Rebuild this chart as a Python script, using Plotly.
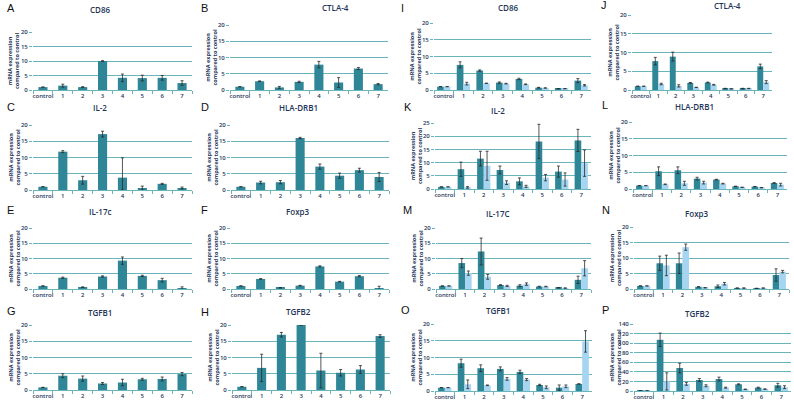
import plotly.graph_objects as go

W, H = 794, 405
categories = ["control", "1", "2", "3", "4", "5", "6", "7"]

# ---- single-series panels (A-H) ----
A_vals = [1.0, 1.5, 1.0, 10.0, 4.2, 4.1, 4.2, 2.4]
A_err = [0, 0.5, 0.15, 0.1, 1.3, 1.0, 0.8, 0.8]
B_vals = [1.0, 2.7, 0.8, 2.5, 7.8, 2.3, 6.6, 1.8]
B_err = [0, 0.1, 0.3, 0.2, 1.0, 1.5, 0.3, 0.2]
C_vals = [1.0, 11.8, 3.0, 17.2, 3.8, 0.4, 1.9, 0.6]
C_err = [0, 0.3, 1.2, 0.9, 6.1, 0.8, 0.15, 0.3]
C_err_minus = [0, 0.3, 1.2, 0.9, 3.8, 0.4, 0.15, 0.3]
D_vals = [1.0, 2.3, 2.4, 16.0, 7.2, 4.4, 6.1, 4.0]
D_err = [0, 0.4, 0.5, 0.2, 0.8, 0.8, 0.6, 1.4]
E_vals = [1.0, 3.7, 0.6, 4.1, 9.3, 4.3, 2.9, 0.3]
E_err = [0, 0.2, 0.1, 0.2, 1.2, 0.2, 0.6, 0.4]
F_vals = [1.0, 3.3, 0.4, 1.1, 7.4, 2.4, 4.2, 0.3]
F_err = [0, 0.1, 0.1, 0.1, 0.2, 0.1, 0.2, 0.6]
G_vals = [0.8, 4.4, 3.5, 2.0, 2.3, 3.3, 3.4, 4.9]
G_err = [0, 0.6, 0.8, 0.3, 1.0, 0.3, 0.6, 0.5]
H_vals = [1.0, 6.8, 17.0, 20.0, 6.0, 5.3, 6.3, 16.6]
H_err = [0, 4.2, 0.7, 0, 5.3, 1.0, 1.2, 0.4]

# ---- paired panels (I-P): dark series, light series ----
I_dark = [1.0, 7.5, 5.8, 2.2, 3.3, 0.7, 0.4, 2.8]
I_dark_err = [0, 0.9, 0.2, 0.2, 0.2, 0.1, 0.05, 0.6]
I_light = [1.0, 1.9, 2.0, 1.9, 1.7, 0.6, 0.4, 1.4]
I_light_err = [0, 0.4, 0.05, 0.1, 0.1, 0.05, 0.05, 0.2]
J_dark = [1.0, 7.7, 8.9, 1.9, 2.0, 0.4, 0.4, 6.3]
J_dark_err = [0, 1.0, 1.2, 0.1, 0.1, 0.05, 0.05, 0.6]
J_light = [1.0, 1.6, 1.1, 0.7, 1.4, 0.3, 0.4, 2.1]
J_light_err = [0, 0.2, 0.3, 0.05, 0.1, 0.05, 0.05, 0.4]
K_dark = [0.8, 7.5, 11.5, 7.2, 2.9, 18.0, 6.6, 18.4]
K_dark_err = [0, 2.7, 2.8, 1.5, 1.3, 6.5, 2.1, 4.2]
K_light = [0.8, 0.6, 8.8, 2.4, 1.0, 4.3, 3.6, 9.8]
K_light_err = [0, 0.3, 5.5, 0.7, 0.4, 1.2, 2.5, 5.0]
L_dark = [1.0, 5.3, 5.6, 3.1, 2.8, 0.8, 0.7, 1.8]
L_dark_err = [0, 1.3, 1.0, 0.4, 0.1, 0.05, 0.05, 0.1]
L_light = [1.0, 1.4, 1.7, 1.9, 1.6, 0.5, 0.4, 1.3]
L_light_err = [0, 0.1, 0.6, 0.4, 0.1, 0.05, 0.05, 0.4]
M_dark = [1.0, 8.5, 12.3, 1.3, 1.1, 0.8, 0.4, 3.0]
M_dark_err = [0, 1.5, 4.4, 0.1, 0.3, 0.1, 0.05, 1.2]
M_light = [1.0, 5.2, 4.0, 1.0, 1.6, 0.8, 0.3, 6.8]
M_light_err = [0, 0.7, 0.8, 0.2, 0.4, 0.1, 0.05, 2.5]
N_dark = [1.0, 8.3, 8.3, 0.7, 0.9, 0.3, 0.2, 4.5]
N_dark_err = [0, 2.3, 3.3, 0.05, 0.4, 0.05, 0.05, 2.0]
N_light = [1.0, 7.6, 13.5, 0.4, 1.7, 0.3, 0.3, 5.6]
N_light_err = [0, 3.3, 1.0, 0.05, 0.4, 0.05, 0.05, 0.4]
O_dark = [1.0, 8.3, 6.8, 6.6, 5.7, 1.8, 1.0, 2.1]
O_dark_err = [0, 1.2, 1.0, 0.6, 0.5, 0.2, 0.8, 0.05]
O_light = [1.0, 2.0, 1.7, 3.6, 3.4, 1.1, 1.4, 14.8]
O_light_err = [0, 1.3, 0.1, 0.4, 0.3, 0.4, 0.4, 3.2]
P_dark = [0.5, 107, 48, 23, 25, 14, 7, 12]
P_dark_err = [0, 14, 10, 3, 4, 1, 1, 4]
P_light = [0.5, 20, 15, 11, 7, 3.5, 4, 8]
P_light_err = [0, 18, 3, 2, 1, 0.5, 0.5, 3]

titles = {"A": "CD86", "B": "CTLA-4", "C": "IL-2", "D": "HLA-DRB1", "E": "IL-17c",
          "F": "Foxp3", "G": "TGFB1", "H": "TGFB2", "I": "CD86", "J": "CTLA-4",
          "K": "IL-2", "L": "HLA-DRB1", "M": "IL-17C", "N": "Foxp3", "O": "TGFB1",
          "P": "TGFB2"}
ymax = {"K": 25, "P": 140}
ydtick = {"P": 20}

single = {"A": (A_vals, A_err, None), "B": (B_vals, B_err, None),
          "C": (C_vals, C_err, C_err_minus), "D": (D_vals, D_err, None),
          "E": (E_vals, E_err, None), "F": (F_vals, F_err, None),
          "G": (G_vals, G_err, None), "H": (H_vals, H_err, None)}
paired = {"I": (I_dark, I_dark_err, I_light, I_light_err),
          "J": (J_dark, J_dark_err, J_light, J_light_err),
          "K": (K_dark, K_dark_err, K_light, K_light_err),
          "L": (L_dark, L_dark_err, L_light, L_light_err),
          "M": (M_dark, M_dark_err, M_light, M_light_err),
          "N": (N_dark, N_dark_err, N_light, N_light_err),
          "O": (O_dark, O_dark_err, O_light, O_light_err),
          "P": (P_dark, P_dark_err, P_light, P_light_err)}

# layout (pixel boxes): x0, x1, ytop, ybottom ; letter pos ; title pos
geom = {
    "A": ((33, 192, 32, 90), (5, 8), (100, 9)),
    "B": ((230, 388, 25, 90), (199, 8), (335, 8)),
    "C": ((33, 192, 125, 190), (5, 107), (100, 108)),
    "D": ((231, 389, 125, 190), (199, 107), (298, 108)),
    "E": ((33, 192, 228, 289), (5, 210), (100, 211)),
    "F": ((231, 389, 228, 289), (199, 210), (298, 211)),
    "G": ((33, 192, 325, 390), (5, 311), (100, 312)),
    "H": ((232, 390, 325, 390), (199, 312), (298, 311)),
    "I": ((434, 591, 23, 90), (399, 8), (508, 8)),
    "J": ((632, 772, 15, 90), (599, 5), (727, 5)),
    "K": ((435, 591, 123, 189), (402, 107), (498, 110)),
    "L": ((633, 787, 122, 189), (600, 105), (694, 106)),
    "M": ((436, 591, 228, 289), (401, 210), (498, 213)),
    "N": ((634, 789, 227, 289), (600, 210), (697, 213)),
    "O": ((435, 592, 324, 391), (399, 310), (498, 310)),
    "P": ((634, 791, 324, 391), (600, 310), (697, 313)),
}

DARK = "#2f8696"
LIGHT = "#a6d5f2"
GRID = "#6ab5bc"
NAVY = "#1e3558"
FONT = "Open Sans"

fig = go.Figure()
annotations = []
layout = {}

def px2x(p):
    return p / W

def px2y(p):
    return 1 - p / H

err_style = dict(color="#2a2a2a", thickness=0.8, width=1.5)

order = list("ABCDEFGHIJKLMNOP")
for i, key in enumerate(order, start=1):
    (x0, x1, yt, yb), (lx, ly), (tx, ty) = geom[key]
    xa = "x" if i == 1 else f"x{i}"
    ya = "y" if i == 1 else f"y{i}"
    top = ymax.get(key, 20)
    dt = ydtick.get(key, 5)
    if key in single:
        vals, err, errm = single[key]
        ey = dict(type="data", array=err, visible=True, **err_style)
        if errm is not None:
            ey["symmetric"] = False
            ey["arrayminus"] = errm
        fig.add_trace(go.Bar(x=categories, y=vals, xaxis=xa, yaxis=ya,
                             marker=dict(color=DARK, line=dict(width=0)),
                             width=0.46, offset=-0.23, error_y=ey,
                             showlegend=False, cliponaxis=True, hoverinfo="skip"))
    else:
        d, de, l, le = paired[key]
        fig.add_trace(go.Bar(x=categories, y=d, xaxis=xa, yaxis=ya,
                             marker=dict(color=DARK, line=dict(width=0)),
                             width=0.34, offset=-0.34,
                             error_y=dict(type="data", array=de, visible=True, **err_style),
                             showlegend=False, hoverinfo="skip"))
        fig.add_trace(go.Bar(x=categories, y=l, xaxis=xa, yaxis=ya,
                             marker=dict(color=LIGHT, line=dict(width=0)),
                             width=0.34, offset=0.0,
                             error_y=dict(type="data", array=le, visible=True, **err_style),
                             showlegend=False, hoverinfo="skip"))
    xname = "xaxis" if i == 1 else f"xaxis{i}"
    yname = "yaxis" if i == 1 else f"yaxis{i}"
    layout[xname] = dict(domain=[px2x(x0), px2x(x1)], anchor=ya,
                         type="category", range=[-0.5, 7.5],
                         showline=True, linecolor=GRID, linewidth=1,
                         ticks="outside", tickson="boundaries", ticklen=3,
                         tickcolor=GRID, showgrid=False, zeroline=False,
                         tickangle=0, automargin=False,
                         tickfont=dict(family=FONT, size=6, color=NAVY, weight=600),
                         fixedrange=True)
    layout[yname] = dict(domain=[px2y(yb), px2y(yt)], anchor=xa,
                         range=[0, top], dtick=dt, tick0=0,
                         showgrid=True, gridcolor=GRID, gridwidth=1,
                         showline=False, zeroline=False,
                         ticks="outside", ticklen=3, tickcolor=GRID,
                         automargin=False,
                         tickfont=dict(family=FONT, size=6, color=NAVY, weight=600),
                         fixedrange=True)
    annotations.append(dict(text=key, x=px2x(lx), y=px2y(ly), xref="paper", yref="paper",
                            xanchor="left", yanchor="middle", showarrow=False,
                            font=dict(family="Liberation Sans", size=11, color="#111111")))
    annotations.append(dict(text=titles[key], x=px2x(tx), y=px2y(ty), xref="paper", yref="paper",
                            xanchor="center", yanchor="middle", showarrow=False,
                            font=dict(family=FONT, size=8, color=NAVY, weight=600)))
    annotations.append(dict(text="<b>mRNA expression<br>compared to control</b>",
                            x=px2x(x0 - 19), y=px2y((yt + yb) / 2), xref="paper", yref="paper",
                            xanchor="center", yanchor="middle", showarrow=False,
                            textangle=-90,
                            font=dict(family=FONT, size=5.5, color=NAVY)))

fig.update_layout(width=W, height=H, margin=dict(l=0, r=0, t=0, b=0),
                  paper_bgcolor="white", plot_bgcolor="white",
                  barmode="overlay", annotations=annotations, hovermode=False, **layout)

fig.write_html("out.html", config={"displayModeBar": False},
               post_script="document.body.style.margin='0';document.body.style.overflow='hidden';")
